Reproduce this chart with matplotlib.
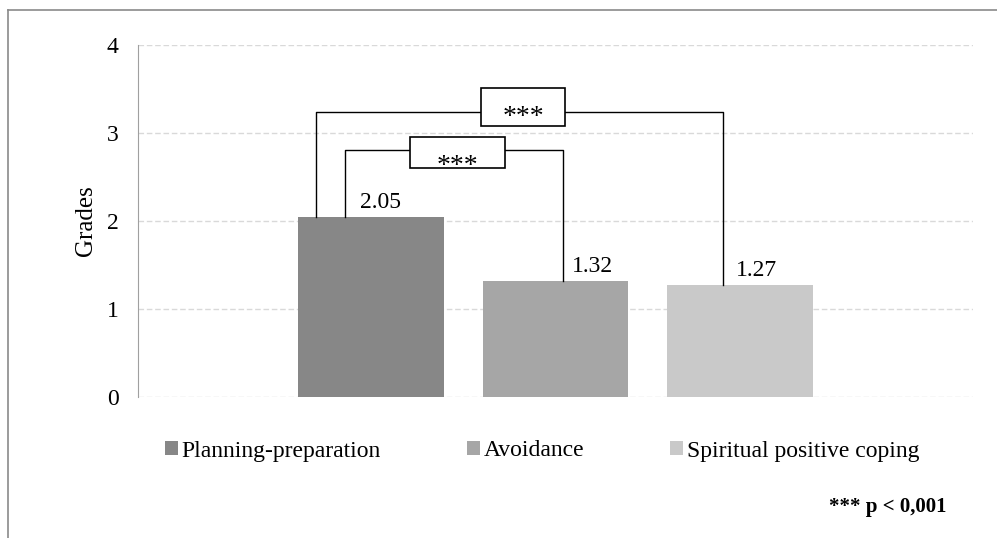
import matplotlib
matplotlib.use('Agg')
import matplotlib.pyplot as plt
from matplotlib.patches import Patch, Rectangle
from matplotlib.lines import Line2D

# data
categories = ['Planning-preparation', 'Avoidance', 'Spiritual positive coping']
values = [2.05, 1.32, 1.27]
colors = ['#878787', '#a6a6a6', '#c9c9c9']
y_ticks = [0, 1, 2, 3, 4]
sig_label = '***'
footnote = '*** p < 0,001'

plt.rcParams['font.family'] = ['Liberation Serif', 'DejaVu Serif']
plt.rcParams['font.size'] = 17

fig = plt.figure(figsize=(9.97, 5.38), dpi=100)
ax = fig.add_axes([0.1384, 0.262, 0.8376, 0.654])

xs = list(range(len(values)))
ax.bar(xs, values, width=0.79, color=colors, zorder=2)
# labels sit just right of the bracket legs
label_dx = [0.05, 0.20, 0.09]
for x, v, dx in zip(xs, values, label_dx):
    ax.annotate(f'{v:.2f}', (x + dx, v), xytext=(0, 3), textcoords='offset points',
                ha='center', va='bottom', fontsize=17)

ax.set_xlim(-1.263, 3.263)
ax.set_ylim(0, 4)
ax.set_yticks(y_ticks)
ax.set_xticks([])
ax.grid(axis='y', color='#d9d9d9', linestyle=(0, (4, 2)), linewidth=1, zorder=0)
ax.set_axisbelow(True)
for side in ['top', 'right', 'bottom']:
    ax.spines[side].set_visible(False)
ax.spines['left'].set_color('#a0a0a0')
ax.tick_params(axis='y', length=0, pad=14, labelsize=17)
ax.set_ylabel('Grades', fontsize=18, labelpad=7)

# significance brackets
def bracket(x1, x2, h, y1, y2, box_x, box_y, box_w, box_h, text_dy):
    ax.plot([x1, x1, x2, x2], [y1, h, h, y2], color='black', linewidth=1, zorder=3)
    ax.add_patch(Rectangle((box_x - box_w / 2, box_y - box_h / 2), box_w, box_h,
                           facecolor='white', edgecolor='black', linewidth=1.2, zorder=4))
    ax.text(box_x, box_y + text_dy, sig_label, ha='center', va='center', fontsize=20, zorder=5)

bracket(-0.30, 1.91, 3.24, values[0], values[2], 0.824, 3.30, 0.455, 0.43, -0.12)
bracket(-0.14, 1.04, 2.81, values[0], values[1], 0.469, 2.78, 0.515, 0.35, -0.16)

handles = [Patch(facecolor=c, edgecolor='none') for c in colors]
fig.legend(handles, categories, loc='center', bbox_to_anchor=(542 / 997, 1 - 451 / 538),
           ncol=3, frameon=False, fontsize=17, handlelength=0.55, handleheight=0.55,
           handletextpad=0.15, columnspacing=3.65)

fig.text(888 / 997, 1 - 507 / 538, footnote, ha='center', va='center',
         fontsize=15, fontweight='bold')

# outer chart frame (top and left edges)
fig.add_artist(Line2D([8 / 997, 1], [1 - 10 / 538, 1 - 10 / 538], color='#8a8a8a', linewidth=1.2))
fig.add_artist(Line2D([8 / 997, 8 / 997], [0, 1 - 10 / 538], color='#8a8a8a', linewidth=1.2))

fig.savefig('out.png', dpi=100)
